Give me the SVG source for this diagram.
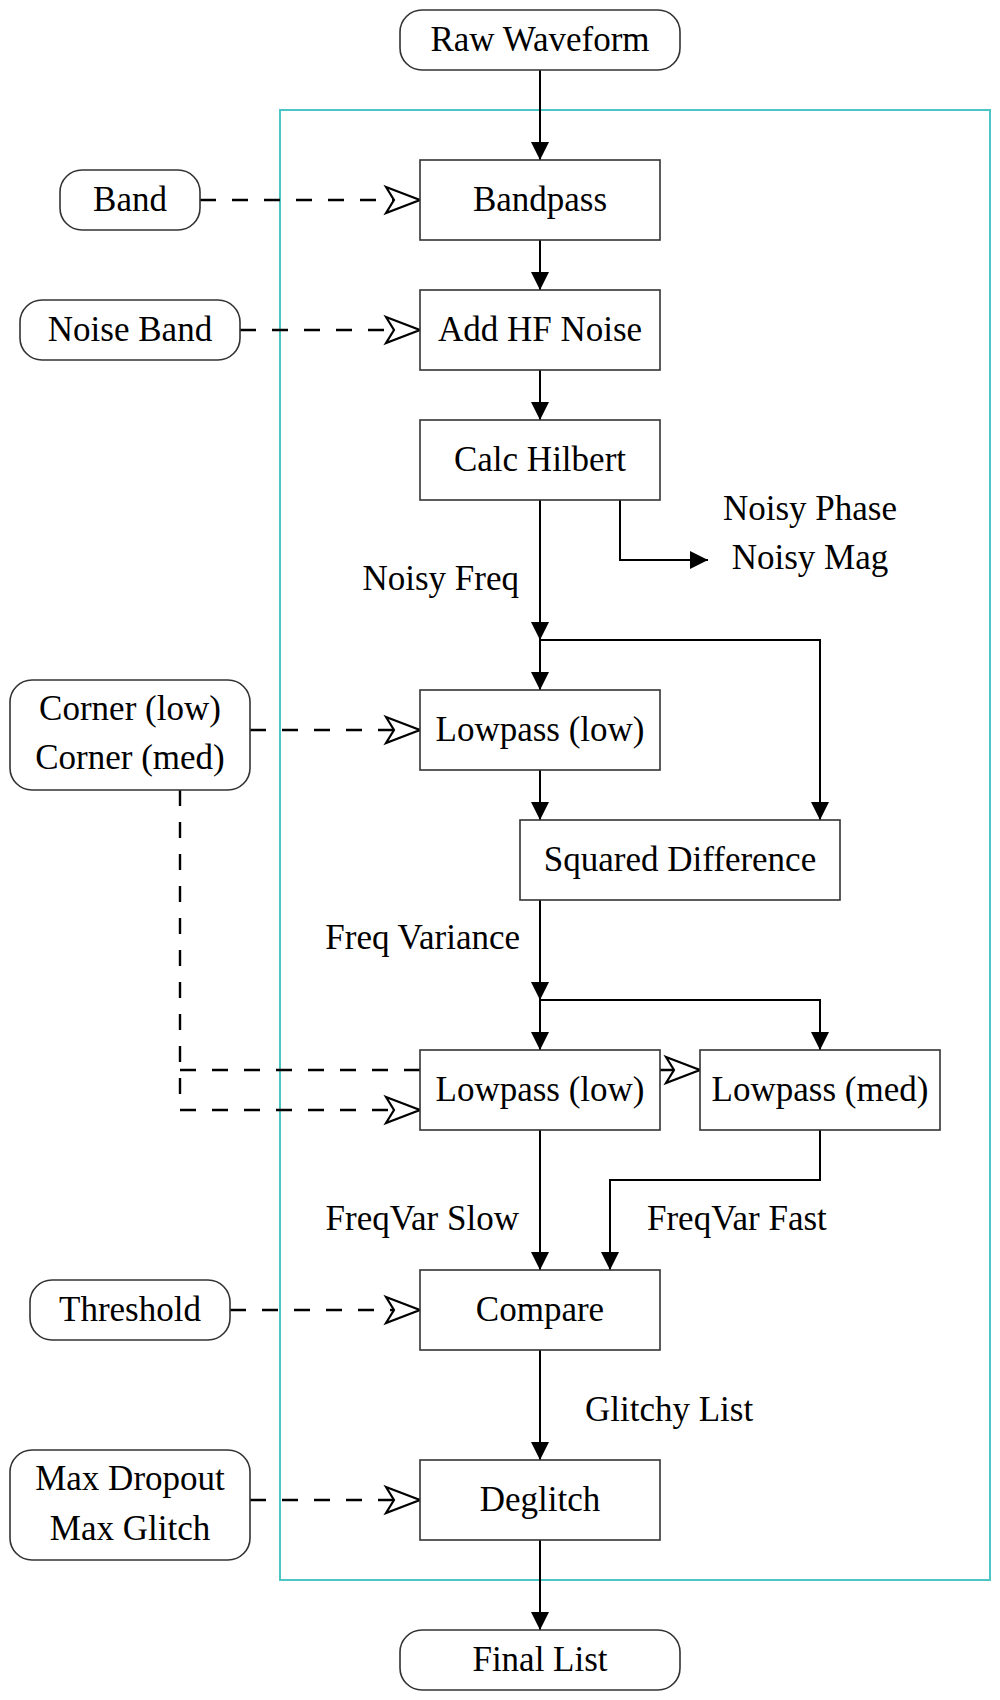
<svg xmlns="http://www.w3.org/2000/svg" width="1000" height="1700" viewBox="0 0 1000 1700">
<style>
.bg{fill:#ffffff}
.frame{fill:none;stroke:#4cc6c4;stroke-width:2}
.box{fill:#ffffff;stroke:#333333;stroke-width:1.6}
.t{font-family:"Liberation Serif","Times New Roman",serif;font-size:35px;fill:#000000}
.m{text-anchor:middle}
.e{text-anchor:end}
.s{text-anchor:start}
.flow{fill:none;stroke:#000000;stroke-width:2;marker-end:url(#solid)}
.dash{fill:none;stroke:#000000;stroke-width:2.4;stroke-dasharray:16 16}
.darr{fill:none;stroke:#000000;stroke-width:2.4;stroke-dasharray:16 16;marker-end:url(#open)}
</style>
<defs>
<marker id="solid" markerUnits="userSpaceOnUse" markerWidth="18" markerHeight="18" refX="18" refY="9" orient="auto" overflow="visible">
<path d="M0,0 L18,9 L0,18 Z" fill="#000000" stroke="none"/>
</marker>
<marker id="open" markerUnits="userSpaceOnUse" markerWidth="36" markerHeight="28" refX="35" refY="14" orient="auto" overflow="visible">
<path d="M1,1 L35,14 L1,27 L9,14 Z" fill="#ffffff" stroke="#000000" stroke-width="2.2" stroke-dasharray="none" stroke-linejoin="miter"/>
</marker>
</defs>
<rect class="bg" x="0" y="0" width="1000" height="1700"/>
<rect id="frame" class="frame" x="280" y="110" width="710" height="1470"/>
<g id="connectors">
<path class="flow" d="M540,70 V160"/>
<path class="flow" d="M540,240 V290"/>
<path class="flow" d="M540,370 V420"/>
<path class="flow" d="M540,500 V640"/>
<path class="flow" d="M620,500 V560 H708"/>
<path class="flow" d="M540,640 V690"/>
<path class="flow" d="M540,640 H820 V820"/>
<path class="flow" d="M540,770 V820"/>
<path class="flow" d="M540,900 V1000"/>
<path class="flow" d="M540,1000 V1050"/>
<path class="flow" d="M540,1000 H820 V1050"/>
<path class="flow" d="M540,1130 V1270"/>
<path class="flow" d="M820,1130 V1180 H610 V1270"/>
<path class="flow" d="M540,1350 V1460"/>
<path class="flow" d="M540,1540 V1630"/>
<path class="darr" d="M200,200 H420"/>
<path class="darr" d="M240,330 H420"/>
<path class="darr" d="M250,730 H420"/>
<path class="dash" d="M180,790 V1110"/>
<path class="darr" d="M180,1110 H420"/>
<path class="darr" d="M180,1070 H700"/>
<path class="darr" d="M230,1310 H420"/>
<path class="darr" d="M250,1500 H420"/>
</g>
<g id="raw-waveform"><rect class="box" x="400" y="10" width="280" height="60" rx="22"/><text class="t m" x="540" y="51">Raw Waveform</text></g>
<g id="band"><rect class="box" x="60" y="170" width="140" height="60" rx="22"/><text class="t m" x="130" y="211">Band</text></g>
<g id="bandpass"><rect class="box" x="420" y="160" width="240" height="80"/><text class="t m" x="540" y="211">Bandpass</text></g>
<g id="noise-band"><rect class="box" x="20" y="300" width="220" height="60" rx="22"/><text class="t m" x="130" y="341">Noise Band</text></g>
<g id="add-hf-noise"><rect class="box" x="420" y="290" width="240" height="80"/><text class="t m" x="540" y="341">Add HF Noise</text></g>
<g id="calc-hilbert"><rect class="box" x="420" y="420" width="240" height="80"/><text class="t m" x="540" y="471">Calc Hilbert</text></g>
<g id="noisy-outputs"><text class="t m" x="810" y="520">Noisy Phase</text><text class="t m" x="810" y="569">Noisy Mag</text></g>
<g id="label-noisy-freq"><text class="t e" x="519" y="590">Noisy Freq</text></g>
<g id="corner"><rect class="box" x="10" y="680" width="240" height="110" rx="22"/><text class="t m" x="130" y="720">Corner (low)</text><text class="t m" x="130" y="769">Corner (med)</text></g>
<g id="lowpass-low-1"><rect class="box" x="420" y="690" width="240" height="80"/><text class="t m" x="540" y="741">Lowpass (low)</text></g>
<g id="squared-difference"><rect class="box" x="520" y="820" width="320" height="80"/><text class="t m" x="680" y="871">Squared Difference</text></g>
<g id="label-freq-variance"><text class="t e" x="520" y="949">Freq Variance</text></g>
<g id="lowpass-low-2"><rect class="box" x="420" y="1050" width="240" height="80"/><text class="t m" x="540" y="1101">Lowpass (low)</text></g>
<g id="lowpass-med"><rect class="box" x="700" y="1050" width="240" height="80"/><text class="t m" x="820" y="1101">Lowpass (med)</text></g>
<g id="label-freqvar-slow"><text class="t e" x="519" y="1230">FreqVar Slow</text></g>
<g id="label-freqvar-fast"><text class="t s" x="647" y="1230">FreqVar Fast</text></g>
<g id="threshold"><rect class="box" x="30" y="1280" width="200" height="60" rx="22"/><text class="t m" x="130" y="1321">Threshold</text></g>
<g id="compare"><rect class="box" x="420" y="1270" width="240" height="80"/><text class="t m" x="540" y="1321">Compare</text></g>
<g id="label-glitchy-list"><text class="t s" x="585" y="1421">Glitchy List</text></g>
<g id="max-params"><rect class="box" x="10" y="1450" width="240" height="110" rx="22"/><text class="t m" x="130" y="1490">Max Dropout</text><text class="t m" x="130" y="1540">Max Glitch</text></g>
<g id="deglitch"><rect class="box" x="420" y="1460" width="240" height="80"/><text class="t m" x="540" y="1511">Deglitch</text></g>
<g id="final-list"><rect class="box" x="400" y="1630" width="280" height="60" rx="22"/><text class="t m" x="540" y="1671">Final List</text></g>
</svg>
